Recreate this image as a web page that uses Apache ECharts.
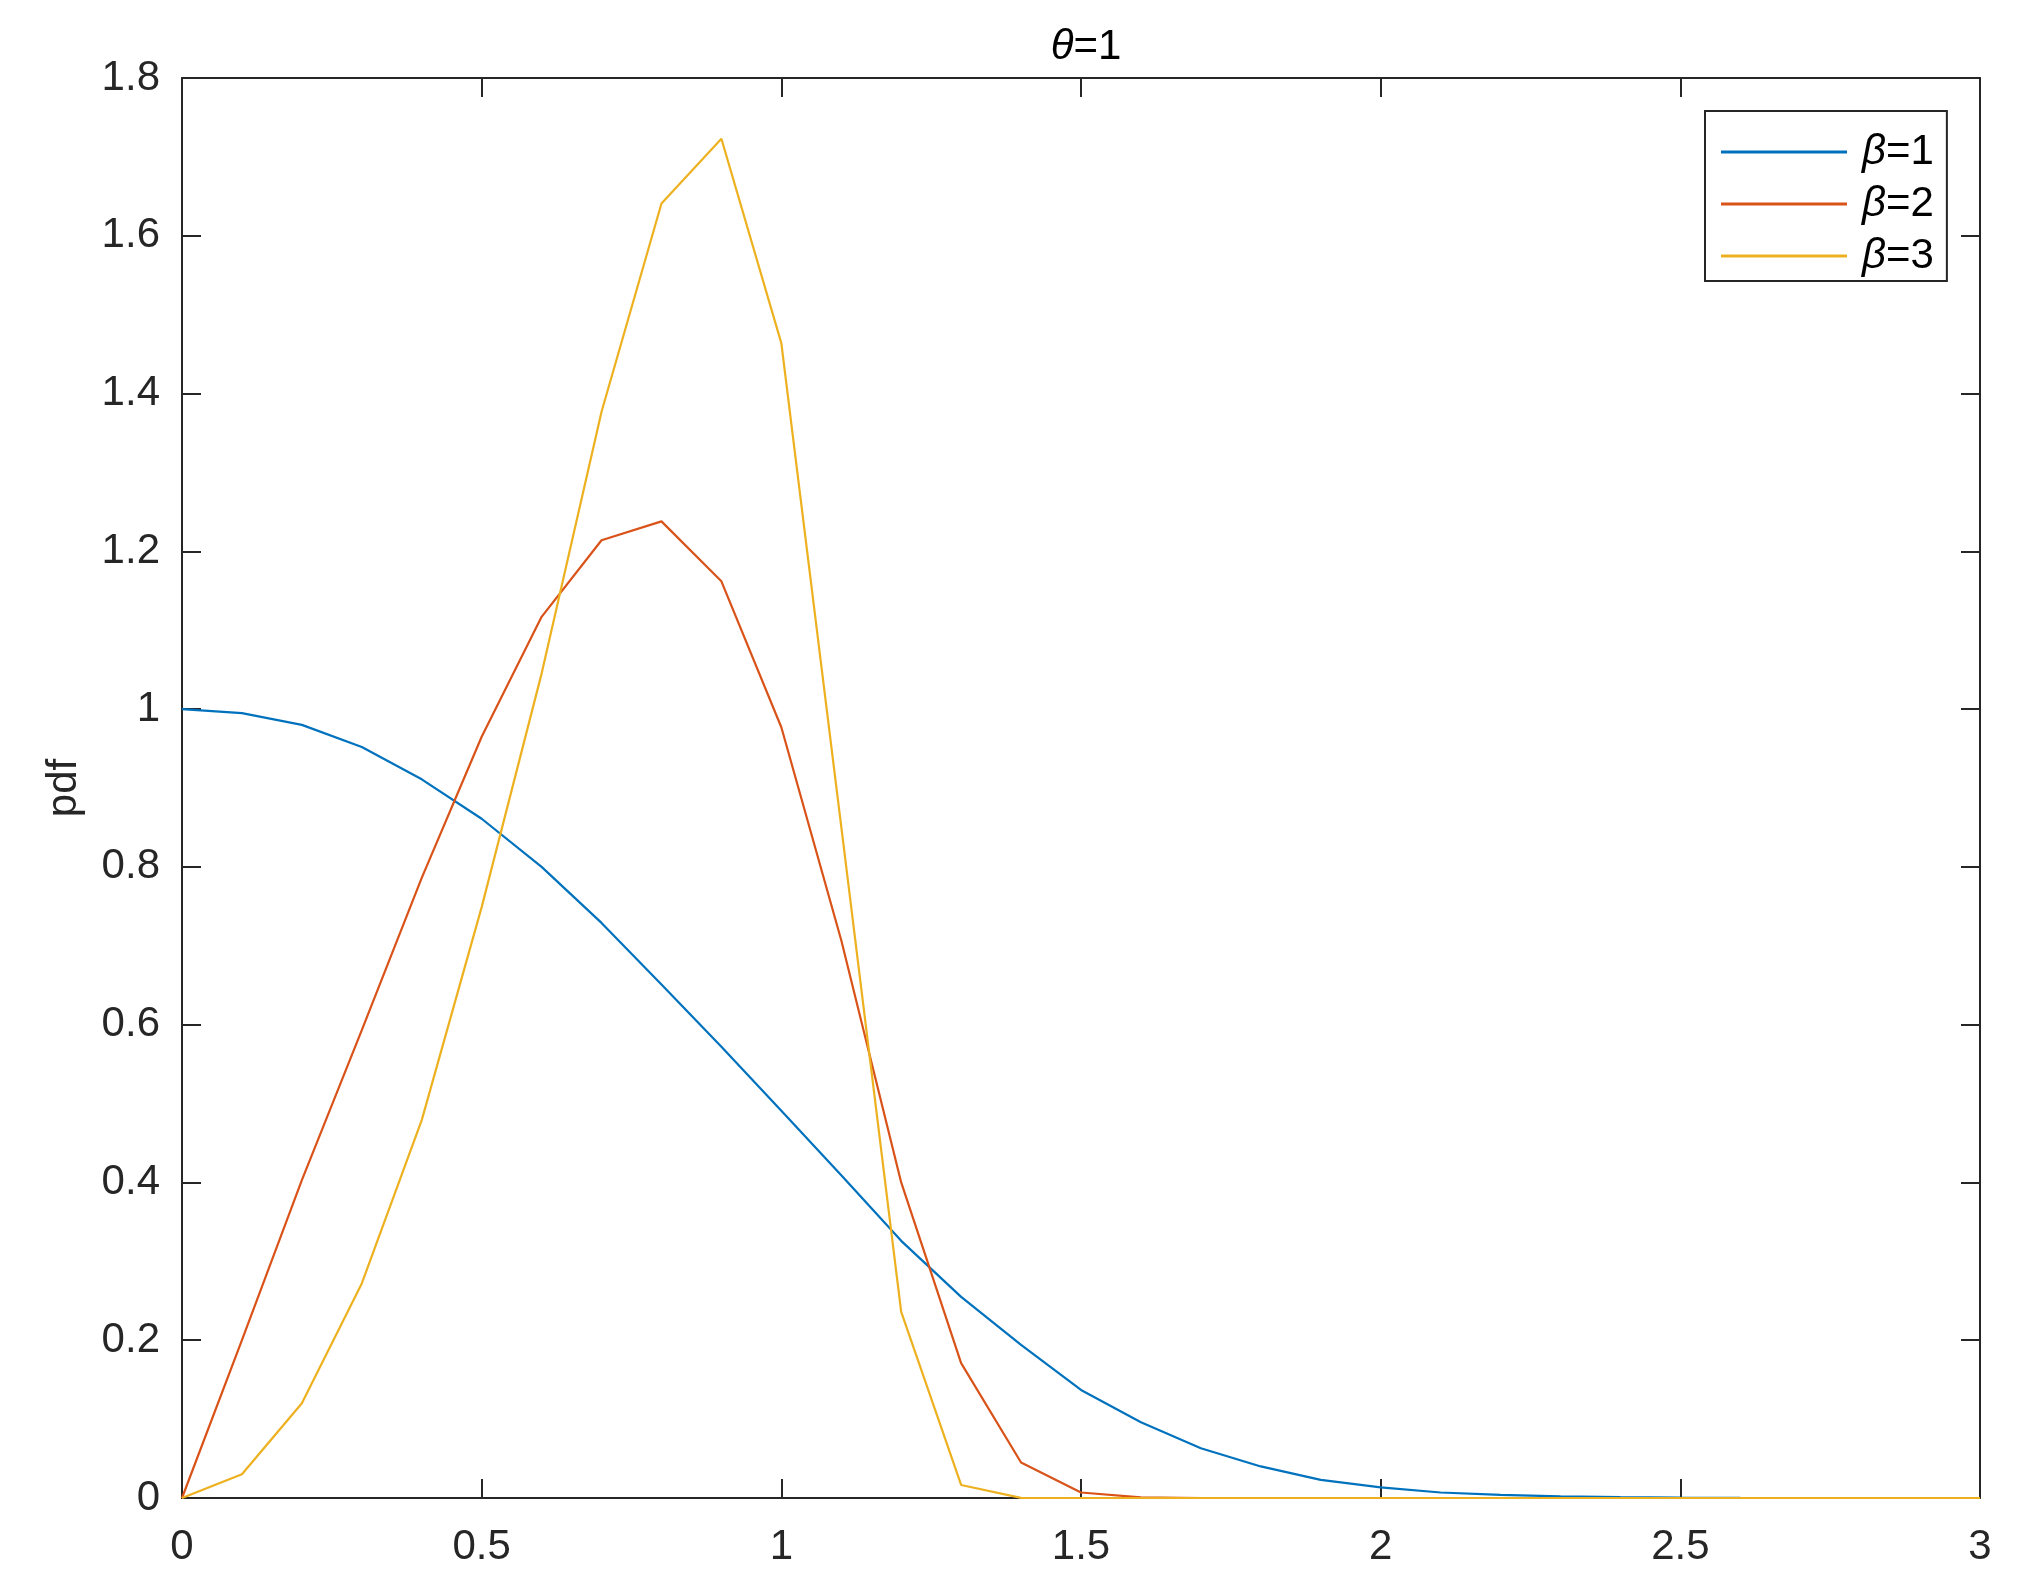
<!DOCTYPE html>
<html>
<head>
<meta charset="utf-8">
<script src="https://cdn.jsdelivr.net/npm/echarts@6/dist/echarts.min.js"></script>
<style>
html,body{margin:0;padding:0;background:#fff;}
#chart{width:2023px;height:1594px;}
</style>
</head>
<body>
<div id="chart"></div>
<script>
// ---- data ----
const xValues = [0, 0.1, 0.2, 0.3, 0.4, 0.5, 0.6, 0.7, 0.8, 0.9, 1.0, 1.1, 1.2, 1.3, 1.4, 1.5, 1.6, 1.7, 1.8, 1.9, 2.0, 2.1, 2.2, 2.3, 2.4, 2.5, 2.6, 2.7, 2.8, 2.9, 3.0];
const beta1 = [1.000, 0.995, 0.980, 0.952, 0.911, 0.861, 0.800, 0.729, 0.651, 0.572, 0.491, 0.409, 0.326, 0.255, 0.194, 0.137, 0.096, 0.063, 0.040, 0.023, 0.0135, 0.007, 0.004, 0.002, 0.001, 0.0004, 0.0001, 0, 0, 0, 0];
const beta2 = [0, 0.200, 0.403, 0.593, 0.786, 0.965, 1.117, 1.214, 1.238, 1.162, 0.977, 0.707, 0.400, 0.171, 0.045, 0.007, 0.0008, 0, 0, 0, 0, 0, 0, 0, 0, 0, 0, 0, 0, 0, 0];
const beta3 = [0, 0.030, 0.120, 0.272, 0.479, 0.749, 1.045, 1.377, 1.641, 1.723, 1.464, 0.851, 0.236, 0.0165, 0.0002, 0, 0, 0, 0, 0, 0, 0, 0, 0, 0, 0, 0, 0, 0, 0, 0];
const seriesNames = ['β=1', 'β=2', 'β=3'];
const xTickLabels = ['0', '0.5', '1', '1.5', '2', '2.5', '3'];
const yTickLabels = ['0', '0.2', '0.4', '0.6', '0.8', '1', '1.2', '1.4', '1.6', '1.8'];
const titleText = 'θ=1';
const yAxisName = 'pdf';

// ---- chart ----
const FONT = '"Liberation Sans", Arial, Helvetica, sans-serif';
const AX = '#262626';
const colors = ['#0072BD', '#D95319', '#EDB120'];
const pairs = arr => xValues.map((x, i) => [x, arr[i]]);

const xFmt = v => { const i = Math.round(v / 0.5); return xTickLabels[i] !== undefined ? xTickLabels[i] : ''; };
const yFmt = v => { const i = Math.round(v / 0.2); return yTickLabels[i] !== undefined ? yTickLabels[i] : ''; };

const axisCommon = {
  type: 'value',
  axisLine: { show: true, onZero: false, lineStyle: { color: AX, width: 2 } },
  axisTick: { show: true, inside: true, length: 19, lineStyle: { color: AX, width: 2 } },
  splitLine: { show: false },
};

const chart = echarts.init(document.getElementById('chart'), null, { renderer: 'canvas' });
chart.setOption({
  backgroundColor: '#ffffff',
  animation: false,
  color: colors,
  title: {
    text: '{i|' + titleText.charAt(0) + '}' + titleText.slice(1),
    left: 1081,
    top: 21,
    textAlign: 'center',
    textStyle: {
      fontFamily: FONT, fontSize: 42, fontWeight: 'normal', color: '#000',
      rich: {
        i: { fontFamily: FONT, fontSize: 42, fontStyle: 'italic', color: '#000' }
      }
    }
  },
  grid: { left: 182, top: 78, right: 43, bottom: 96, containLabel: false },
  legend: {
    left: 1705,
    top: 111,
    orient: 'vertical',
    data: seriesNames,
    icon: 'rect',
    itemWidth: 126,
    itemHeight: 3,
    itemGap: 8,
    padding: [19, 13, 3, 16],
    borderColor: AX,
    borderWidth: 2,
    backgroundColor: '#fff',
    formatter: name => '{i|β}' + name.slice(1),
    textStyle: {
      fontFamily: FONT, fontSize: 42, color: '#000', lineHeight: 44,
      padding: [0, 0, 0, 10],
      rich: { i: { fontFamily: FONT, fontSize: 42, fontStyle: 'italic', color: '#000' } }
    }
  },
  xAxis: [
    Object.assign({}, axisCommon, {
      position: 'bottom', min: 0, max: 3, interval: 0.5,
      axisLabel: { show: true, formatter: xFmt, margin: 28, fontFamily: FONT, fontSize: 42, color: AX }
    }),
    Object.assign({}, axisCommon, {
      position: 'top', min: 0, max: 3, interval: 0.5,
      axisLabel: { show: false }
    })
  ],
  yAxis: [
    Object.assign({}, axisCommon, {
      position: 'left', min: 0, max: 1.8, interval: 0.2,
      name: yAxisName, nameLocation: 'middle', nameGap: 97, nameRotate: 90,
      nameTextStyle: { fontFamily: FONT, fontSize: 42, color: AX },
      axisLabel: { show: true, formatter: yFmt, margin: 22, fontFamily: FONT, fontSize: 42, color: AX }
    }),
    Object.assign({}, axisCommon, {
      position: 'right', min: 0, max: 1.8, interval: 0.2,
      axisLabel: { show: false }
    })
  ],
  series: [beta1, beta2, beta3].map((arr, k) => ({
    name: seriesNames[k],
    type: 'line',
    xAxisIndex: 0,
    yAxisIndex: 0,
    data: pairs(arr),
    symbol: 'none',
    showSymbol: false,
    clip: false,
    lineStyle: { width: 2.2, color: colors[k] },
    itemStyle: { color: colors[k] },
    z: 5 + k
  }))
});
</script>
</body>
</html>
